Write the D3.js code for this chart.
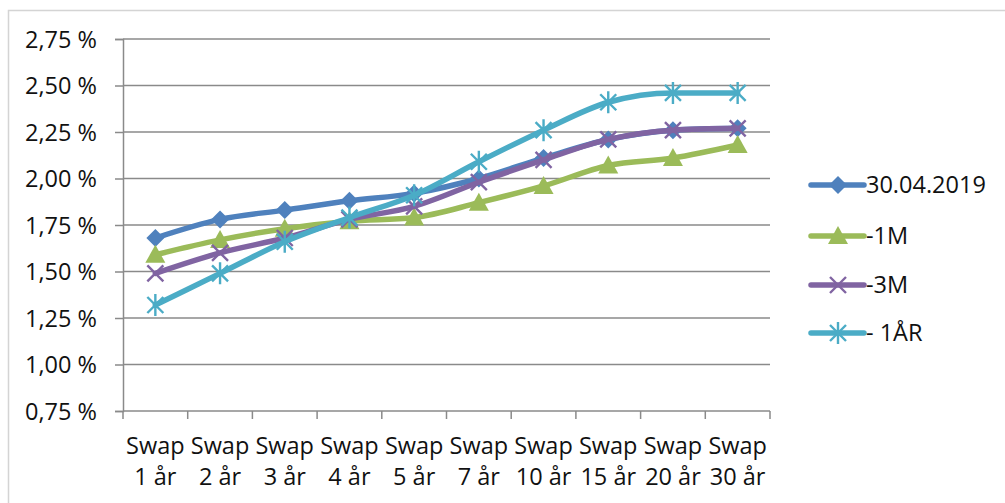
<!DOCTYPE html>
<html><head><meta charset="utf-8">
<script src="https://cdn.jsdelivr.net/npm/d3@7"></script>
<style>
html,body{margin:0;padding:0;background:#fff;}
svg{display:block;}
text{font-family:"Open Sans",sans-serif;fill:#111;}
</style></head>
<body>
<svg id="chart" width="1005" height="503"></svg>
<script>
const categories = ["Swap 1 år","Swap 2 år","Swap 3 år","Swap 4 år","Swap 5 år","Swap 7 år","Swap 10 år","Swap 15 år","Swap 20 år","Swap 30 år"];
const seriesNames = ["30.04.2019","-1M","-3M","- 1ÅR"];
const s0 = [1.68,1.78,1.83,1.88,1.92,2.00,2.11,2.21,2.26,2.27];
const s1 = [1.59,1.67,1.73,1.77,1.79,1.87,1.96,2.07,2.11,2.18];
const s2 = [1.49,1.60,1.68,1.78,1.85,1.98,2.10,2.21,2.26,2.27];
const s3 = [1.32,1.49,1.66,1.79,1.91,2.09,2.26,2.41,2.46,2.46];
const yTicks = [0.75,1.00,1.25,1.50,1.75,2.00,2.25,2.50,2.75];
const colors = ["#4F81BD","#9BBB59","#8064A2","#4BACC6"];
const markers = ["diamond","triangle","x","star"];
const FS = "23.5px";

const svg = d3.select("#chart");
const L = 123, R = 770, T = 39, B = 411;

// outer border
svg.append("rect").attr("x",8.5).attr("y",10.5).attr("width",1100).attr("height",600)
  .attr("fill","none").attr("stroke","#d4d4d4").attr("stroke-width",1.5);

const x = d3.scaleBand().domain(categories).range([L,R]).padding(0);
const y = d3.scaleLinear().domain([0.75,2.75]).range([B,T]);

// gridlines + y ticks
const gy = svg.append("g").attr("transform",`translate(${L},0)`)
  .call(d3.axisLeft(y).tickValues(yTicks).tickSize(8).tickFormat(d => d3.format(".2f")(d).replace(".",",") + " %"));
gy.attr("font-size",null).attr("font-family",null);
gy.select(".domain").attr("stroke","#8a8a8a").attr("stroke-width",1.5);
gy.selectAll(".tick line").attr("stroke","#8a8a8a").attr("stroke-width",1.5);
gy.selectAll(".tick text").attr("x",-26).attr("dy","0.34em").style("font-size",FS).attr("fill","#111");
svg.append("g").selectAll("line").data(yTicks.slice(1)).join("line")
  .attr("x1",L).attr("x2",R).attr("y1",d=>y(d)).attr("y2",d=>y(d))
  .attr("stroke","#8a8a8a").attr("stroke-width",1.5);

// x axis
const boundaries = categories.map(c => x(c)).concat([R]);
svg.append("line").attr("x1",L).attr("x2",R).attr("y1",B).attr("y2",B).attr("stroke","#8a8a8a").attr("stroke-width",1.5);
svg.append("g").selectAll("line").data(boundaries).join("line")
  .attr("x1",d=>d).attr("x2",d=>d).attr("y1",B).attr("y2",B+8).attr("stroke","#8a8a8a").attr("stroke-width",1.5);
const xl = svg.append("g").selectAll("text").data(categories).join("text")
  .attr("x",d=>x(d)+x.bandwidth()/2).attr("text-anchor","middle").style("font-size",FS);
xl.append("tspan").attr("x",d=>x(d)+x.bandwidth()/2).attr("y",454).text(d=>d.split(" ")[0]);
xl.append("tspan").attr("x",d=>x(d)+x.bandwidth()/2).attr("y",485).text(d=>d.split(" ").slice(1).join(" "));

function drawMarker(g, type, color, cx, cy) {
  if (type === "diamond") {
    g.append("path").attr("d",`M${cx},${cy-9}L${cx+9},${cy}L${cx},${cy+9}L${cx-9},${cy}Z`).attr("fill",color);
  } else if (type === "triangle") {
    g.append("path").attr("d",`M${cx},${cy-10}L${cx+10},${cy+8}L${cx-10},${cy+8}Z`).attr("fill",color);
  } else if (type === "x") {
    g.append("path").attr("d",`M${cx-8},${cy-8}L${cx+8},${cy+8}M${cx-8},${cy+8}L${cx+8},${cy-8}`).attr("stroke",color).attr("stroke-width",2.4);
  } else {
    g.append("path").attr("d",`M${cx-8},${cy-8}L${cx+8},${cy+8}M${cx-8},${cy+8}L${cx+8},${cy-8}M${cx},${cy-11}L${cx},${cy+11}`).attr("stroke",color).attr("stroke-width",2.4);
  }
}

const allSeries = [s0,s1,s2,s3];
const line = d3.line().x((d,i)=>x(categories[i])+x.bandwidth()/2).y(d=>y(d)).curve(d3.curveMonotoneX);
allSeries.forEach((vals, si) => {
  const g = svg.append("g");
  g.append("path").datum(vals).attr("d",line).attr("fill","none").attr("stroke",colors[si])
    .attr("stroke-width",5.5).attr("stroke-linejoin","round").attr("stroke-linecap","round");
  vals.forEach((v,i) => drawMarker(g, markers[si], colors[si], x(categories[i])+x.bandwidth()/2, y(v)));
});

// legend
const legY = [185,236,285,333];
seriesNames.forEach((n, si) => {
  const g = svg.append("g");
  g.append("line").attr("x1",811).attr("x2",864).attr("y1",legY[si]).attr("y2",legY[si])
    .attr("stroke",colors[si]).attr("stroke-width",5.5).attr("stroke-linecap","round");
  drawMarker(g, markers[si], colors[si], 838, legY[si]);
  g.append("text").attr("x",866).attr("y",legY[si]+8).style("font-size",FS).text(n);
});
</script>
</body></html>
